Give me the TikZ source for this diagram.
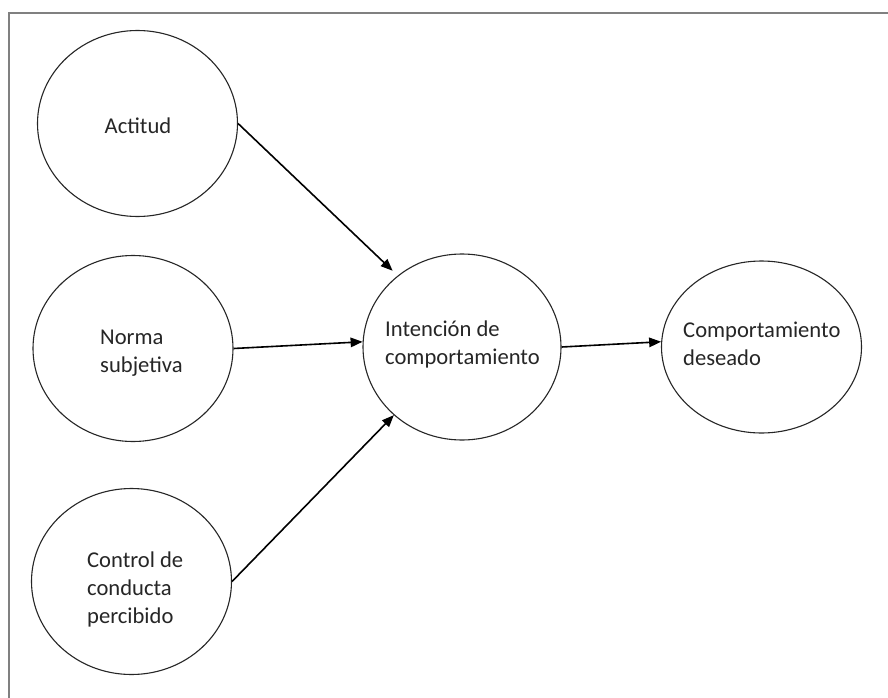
\documentclass[tikz,border=0pt]{standalone}
\usepackage{fontspec}
\setmainfont{Carlito}
\usetikzlibrary{arrows.meta,shapes.geometric}
\begin{document}
\begin{tikzpicture}[x=1pt,y=-1pt,
  ell/.style={draw=black!85, line width=1.1pt, ellipse, inner sep=0pt, minimum width=200pt, minimum height=186pt},
  lbl/.style={inner sep=0pt, align=left, anchor=west, font=\fontsize{22.6}{28}\selectfont, text=black!85},
  conn/.style={line width=1.6pt, -{Triangle[length=12pt,width=9.5pt]}}]
\useasboundingbox (0,0) rectangle (888,698);
\fill[white] (0,0) rectangle (888,698);
\draw[gray, line width=1.4pt] (9,698) -- (9,13) -- (888,13);
% ellipses
\node[ell] (a) at (137.5,123.5) {};
\node[ell] (n) at (133,348.5) {};
\node[ell] (c) at (131.5,581.5) {};
\node[ell, minimum width=198pt] (i) at (462,347) {};
\node[ell, minimum height=172pt] (d) at (761.5,347) {};
% labels
\node[lbl, anchor=center] (ta) at (138,126) {Actitud};
\node[lbl] (tn) at (100,353) {Norma\\subjetiva};
\node[lbl] (tc) at (87,589) {Control de\\conducta\\percibido};
\node[lbl] (ti) at (385,344) {Intención de\\comportamiento};
\node[lbl] (td) at (683,344) {Comportamiento\\deseado};
% connectors
\draw[conn, shorten >=7pt] (a.east) -- (i.132);
\draw[conn] (n.east) -- (i.177);
\draw[conn] (c.east) -- (i.225);
\draw[conn] (i.east) -- (d.177);
\end{tikzpicture}
\end{document}
